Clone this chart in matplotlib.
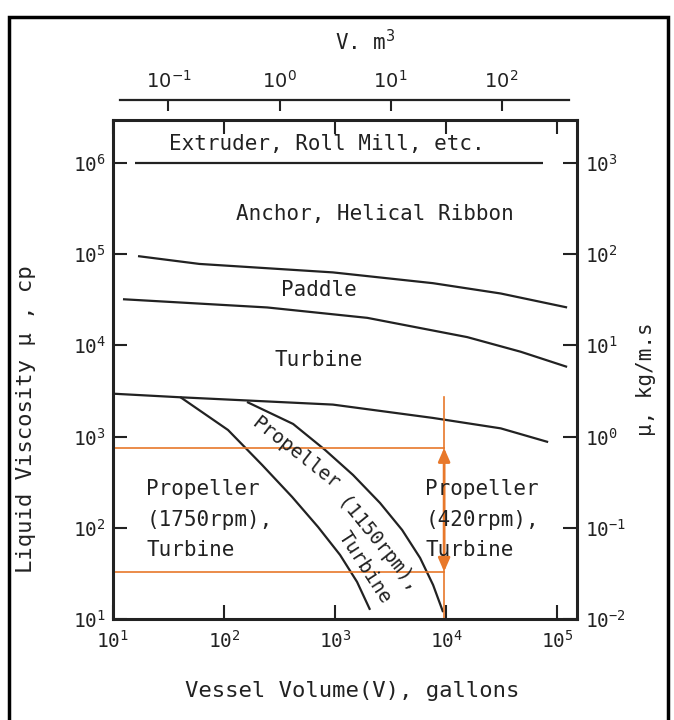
import matplotlib
matplotlib.use('Agg')
import matplotlib.pyplot as plt
import matplotlib.ticker as ticker
from matplotlib.patches import Rectangle

# boundary curves, vessel volume in gallons vs viscosity in cp
extruder_v = [15.8, 7.5e4]
extruder_mu = [1e6, 1e6]

anchor_v = [16.8, 60, 955, 7.6e3, 3.1e4, 1.23e5]
anchor_mu = [9.5e4, 7.8e4, 6.3e4, 4.8e4, 3.7e4, 2.6e4]

paddle_v = [12.3, 245, 1950, 1.55e4, 4.7e4, 1.23e5]
paddle_mu = [3.2e4, 2.6e4, 2.0e4, 1.23e4, 8.5e3, 5.8e3]

turbine_v = [10, 39, 955, 7.6e3, 3.1e4, 8.3e4]
turbine_mu = [2.95e3, 2.7e3, 2.24e3, 1.6e3, 1.23e3, 870]

prop1750_v = [40.2, 108.6, 220, 410, 703, 1109, 1578, 2066]
prop1750_mu = [2716, 1180, 489, 218, 102, 50.4, 25.5, 12.6]

prop1150_v = [161, 419, 813, 1452, 2541, 4018, 5834, 7638, 9397]
prop1150_mu = [2393, 1374, 713, 379, 187, 94.6, 46.7, 23.6, 11.9]

# orange annotation (gallons, cp)
mark_v = 9.6e3
mark_top = 2.7e3
mark_lo = 33
mark_hi = 750

x_ticks = [1e1, 1e2, 1e3, 1e4, 1e5]
y_ticks = [1e1, 1e2, 1e3, 1e4, 1e5, 1e6]
si_ticks = [1e-2, 1e-1, 1e0, 1e1, 1e2, 1e3]
m3_ticks = [1e-1, 1e0, 1e1, 1e2]
m3_labels = ['$10^{-1}$', '$10^{0}$', '$10^{1}$', '$10^{2}$']
GAL_PER_M3 = 316  # as drawn on the original top scale

ORANGE = '#E8782A'
INK = '#222222'
W, H = 674, 720

plt.rcParams['font.family'] = ['DejaVu Sans Mono', 'DejaVu Sans']

fig = plt.figure(figsize=(W / 100, H / 100), dpi=100)
ax = fig.add_axes([113 / W, 101 / H, 464 / W, 499 / H])

ax.set_xscale('log')
ax.set_yscale('log')
ax.set_xlim(10, 1.51e5)
ax.set_ylim(10, 2.95e6)

for xs, ys in [(extruder_v, extruder_mu), (anchor_v, anchor_mu), (paddle_v, paddle_mu),
               (turbine_v, turbine_mu), (prop1750_v, prop1750_mu), (prop1150_v, prop1150_mu)]:
    ax.plot(xs, ys, color=INK, lw=1.6, solid_capstyle='butt', solid_joinstyle='round')

# orange guide lines and double arrow
ax.plot([mark_v, mark_v], [10, mark_top], color=ORANGE, lw=1.2)
ax.plot([10, mark_v], [mark_hi, mark_hi], color=ORANGE, lw=1.2)
ax.plot([10, mark_v], [mark_lo, mark_lo], color=ORANGE, lw=1.2)
ax.annotate('', xy=(mark_v, mark_hi), xytext=(mark_v, mark_lo),
            arrowprops=dict(arrowstyle='<|-|>,head_length=0.8,head_width=0.35',
                            color=ORANGE, lw=2, shrinkA=0, shrinkB=0))

fs = 15
ax.text(850, 1.6e6, 'Extruder, Roll Mill, etc.', fontsize=fs, ha='center', va='center', color=INK)
ax.text(2.3e3, 2.75e5, 'Anchor, Helical Ribbon', fontsize=fs, ha='center', va='center', color=INK)
ax.text(710, 4e4, 'Paddle', fontsize=fs, ha='center', va='center', color=INK)
ax.text(710, 6.9e3, 'Turbine', fontsize=fs, ha='center', va='center', color=INK)
ax.text(20, 122, 'Propeller\n(1750rpm),\nTurbine', fontsize=fs, ha='left', va='center',
        linespacing=1.65, color=INK)
ax.text(6.5e3, 122, 'Propeller\n(420rpm),\nTurbine', fontsize=fs, ha='left', va='center',
        linespacing=1.65, color=INK)
# the band label bends with the curves, so it is set in pieces
ax.text(446, 661, 'Propeller', fontsize=14, ha='center', va='center',
        rotation=-38, rotation_mode='anchor', color=INK)
ax.text(2400, 63, '(1150rpm),', fontsize=14, ha='center', va='center',
        rotation=-51, rotation_mode='anchor', color=INK)
ax.text(1830, 37, 'Turbine', fontsize=14, ha='center', va='center',
        rotation=-57, rotation_mode='anchor', color=INK)

ax.xaxis.set_major_locator(ticker.FixedLocator(x_ticks))
ax.yaxis.set_major_locator(ticker.FixedLocator(y_ticks))
ax.xaxis.set_minor_locator(ticker.NullLocator())
ax.yaxis.set_minor_locator(ticker.NullLocator())
ax.xaxis.set_major_formatter(ticker.LogFormatterMathtext())
ax.yaxis.set_major_formatter(ticker.LogFormatterMathtext())
ax.tick_params(which='major', direction='in', length=10, width=1.5, labelsize=14,
               top=True, colors=INK)
ax.tick_params(axis='x', pad=8)
ax.tick_params(axis='y', pad=5)
for s in ax.spines.values():
    s.set_linewidth(2.2)
    s.set_color(INK)

ax.set_xlabel('Vessel Volume(V), gallons', fontsize=16, color=INK)
ax.xaxis.set_label_coords(0.515, -0.125)
ax.set_ylabel('Liquid Viscosity μ , cp', fontsize=16, color=INK)
ax.yaxis.set_label_coords(-0.165, 0.40)

# right axis: same scale in kg/m.s
ax2 = ax.twinx()
ax2.set_yscale('log')
lo, hi = ax.get_ylim()
ax2.set_ylim(lo * 1e-3, hi * 1e-3)
ax2.yaxis.set_major_locator(ticker.FixedLocator(si_ticks))
ax2.yaxis.set_minor_locator(ticker.NullLocator())
ax2.yaxis.set_major_formatter(ticker.LogFormatterMathtext())
ax2.tick_params(direction='in', length=10, width=1.5, labelsize=14, pad=6, colors=INK)
ax2.set_ylabel('μ, kg/m.s', fontsize=15, rotation=90, color=INK)
ax2.yaxis.set_label_coords(1.127, 0.48)
for s in ax2.spines.values():
    s.set_visible(False)

# top scale in m^3, a separate line above the box
axt = fig.add_axes([113 / W, 1 - 110 / H, 464 / W, 10 / H])
axt.set_xscale('log')
axt.set_xlim(ax.get_xlim())
axt.set_ylim(0, 1)
axt.patch.set_visible(False)
for k in ['left', 'right', 'bottom']:
    axt.spines[k].set_visible(False)
axt.spines['top'].set_linewidth(1.6)
axt.spines['top'].set_color(INK)
axt.spines['top'].set_bounds(11.6, 1.27e5)
axt.set_yticks([])
axt.xaxis.set_ticks_position('top')
axt.set_xticks([v * GAL_PER_M3 for v in m3_ticks])
axt.set_xticklabels(m3_labels)
axt.xaxis.set_minor_locator(ticker.NullLocator())
axt.tick_params(axis='x', direction='in', length=8, width=1.5, labelsize=14, pad=6, colors=INK)
fig.text(365 / W, 1 - 42 / H, 'V. m$^3$', fontsize=15, ha='center', va='center', color=INK)

# outer frame
fig.patches.append(Rectangle((9 / W, -0.01), 659 / W, 1.01 - 17 / H, transform=fig.transFigure,
                             fill=False, edgecolor='black', linewidth=2.5))

fig.savefig('out.png', dpi=100)
plt.close(fig)
